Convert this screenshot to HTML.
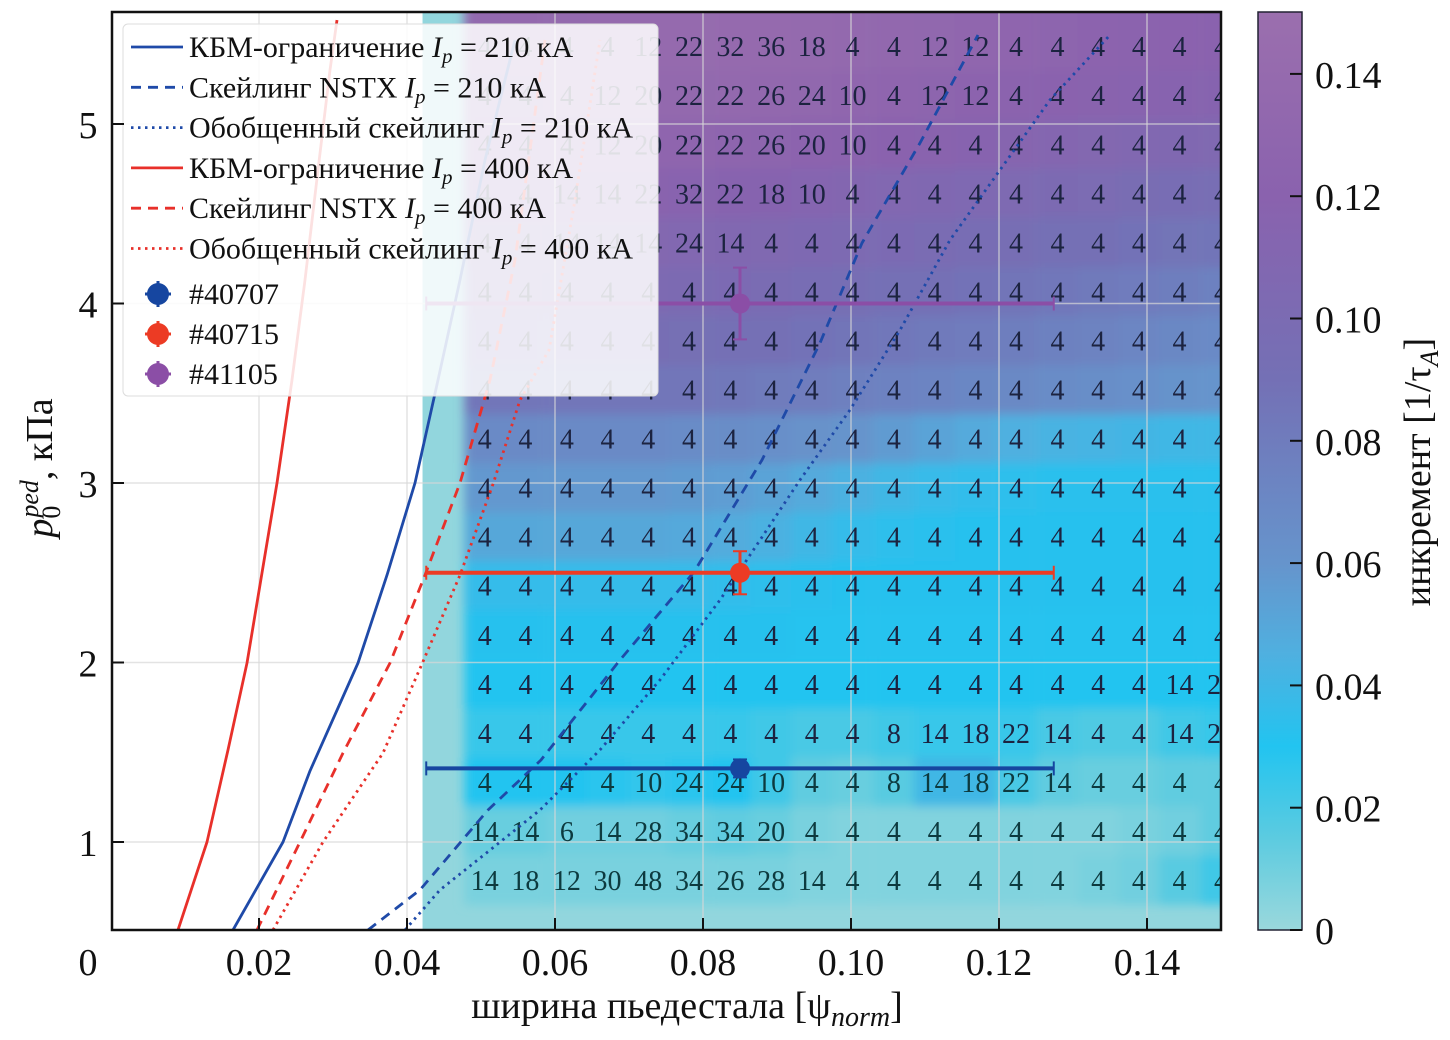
<!DOCTYPE html>
<html><head><meta charset="utf-8"><style>
html,body{margin:0;padding:0;background:#fff;}
svg{display:block;font-family:"Liberation Serif",serif;}
</style></head><body>
<svg id="chart" width="1450" height="1040" viewBox="0 0 1450 1040" xmlns="http://www.w3.org/2000/svg">
<defs>
<clipPath id="plotclip"><rect x="112" y="12" width="1109" height="918"/></clipPath>
<filter id="blur" x="-5%" y="-5%" width="110%" height="110%"><feGaussianBlur stdDeviation="5"/></filter>
<linearGradient id="cbgrad" x1="0" y1="1" x2="0" y2="0">
<stop offset="0" stop-color="#9ad8dc"/><stop offset="0.1" stop-color="#5ccbe0"/><stop offset="0.2" stop-color="#22c4f0"/><stop offset="0.3" stop-color="#4fb0e0"/><stop offset="0.4" stop-color="#6694cc"/><stop offset="0.6" stop-color="#7470b5"/><stop offset="0.8" stop-color="#8a62ae"/><stop offset="1" stop-color="#9b6fae"/>
</linearGradient>
</defs>
<g id="heat" clip-path="url(#plotclip)"></g>
<g id="grid" clip-path="url(#plotclip)"></g>
<g id="labels" clip-path="url(#plotclip)"></g>
<g id="curves" clip-path="url(#plotclip)"></g>
<g id="points"></g>
<g id="legend"></g>
<g id="axes"></g>
<g id="cbar"></g>
</svg>
<script>
// ---------- data ----------
const colX = [0.0505,0.0560,0.0616,0.0671,0.0726,0.0781,0.0837,0.0892,0.0947,0.1002,0.1058,0.1113,0.1168,0.1223,0.1279,0.1334,0.1389,0.1444,0.1500];
const rowP = [5.434,5.161,4.887,4.614,4.341,4.067,3.794,3.521,3.247,2.974,2.701,2.428,2.154,1.881,1.608,1.334,1.061,0.788];
const modeN = [
[4,4,4,4,12,22,32,36,18,4,4,12,12,4,4,4,4,4,4],
[4,4,4,12,20,22,22,26,24,10,4,12,12,4,4,4,4,4,4],
[4,4,4,12,20,22,22,26,20,10,4,4,4,4,4,4,4,4,4],
[4,4,14,14,22,32,22,18,10,4,4,4,4,4,4,4,4,4,4],
[4,4,14,14,14,24,14,4,4,4,4,4,4,4,4,4,4,4,4],
[4,4,4,4,4,4,4,4,4,4,4,4,4,4,4,4,4,4,4],
[4,4,4,4,4,4,4,4,4,4,4,4,4,4,4,4,4,4,4],
[4,4,4,4,4,4,4,4,4,4,4,4,4,4,4,4,4,4,4],
[4,4,4,4,4,4,4,4,4,4,4,4,4,4,4,4,4,4,4],
[4,4,4,4,4,4,4,4,4,4,4,4,4,4,4,4,4,4,4],
[4,4,4,4,4,4,4,4,4,4,4,4,4,4,4,4,4,4,4],
[4,4,4,4,4,4,4,4,4,4,4,4,4,4,4,4,4,4,4],
[4,4,4,4,4,4,4,4,4,4,4,4,4,4,4,4,4,4,4],
[4,4,4,4,4,4,4,4,4,4,4,4,4,4,4,4,4,14,24],
[4,4,4,4,4,4,4,4,4,4,8,14,18,22,14,4,4,14,24],
[4,4,4,4,10,24,24,10,4,4,8,14,18,22,14,4,4,4,4],
[14,14,6,14,28,34,34,20,4,4,4,4,4,4,4,4,4,4,4],
[14,18,12,30,48,34,26,28,14,4,4,4,4,4,4,4,4,4,4]];
const gamma = [
[.136,.137,.138,.139,.140,.140,.140,.139,.138,.136,.134,.132,.130,.128,.126,.124,.122,.121,.120],
[.132,.133,.134,.135,.136,.136,.135,.134,.132,.130,.128,.126,.124,.122,.120,.118,.117,.116,.115],
[.126,.127,.128,.128,.128,.128,.127,.126,.124,.122,.120,.118,.116,.114,.112,.110,.108,.107,.106],
[.118,.118,.118,.118,.118,.117,.116,.115,.113,.111,.109,.107,.105,.103,.101,.099,.097,.096,.095],
[.110,.110,.110,.110,.110,.109,.108,.106,.104,.102,.100,.098,.096,.094,.092,.090,.088,.087,.086],
[.102,.102,.102,.102,.102,.101,.100,.098,.096,.094,.092,.090,.088,.086,.084,.082,.080,.078,.076],
[.094,.094,.094,.094,.094,.093,.092,.090,.088,.086,.084,.082,.080,.078,.076,.074,.072,.070,.068],
[.085,.085,.085,.085,.085,.085,.083,.081,.079,.077,.075,.073,.071,.069,.067,.065,.063,.061,.060],
[.068,.068,.068,.068,.068,.067,.066,.064,.062,.060,.056,.052,.048,.045,.043,.042,.041,.040,.040],
[.058,.058,.058,.058,.058,.057,.055,.052,.048,.044,.040,.037,.035,.034,.033,.033,.033,.033,.033],
[.050,.050,.050,.050,.050,.049,.047,.044,.040,.036,.034,.033,.032,.032,.032,.032,.032,.032,.032],
[.036,.036,.036,.036,.036,.036,.035,.034,.033,.032,.032,.032,.032,.032,.032,.032,.032,.032,.032],
[.032,.032,.032,.032,.032,.032,.032,.032,.031,.031,.031,.031,.031,.031,.031,.031,.031,.031,.031],
[.030,.030,.030,.030,.030,.030,.030,.030,.030,.030,.030,.030,.030,.030,.030,.030,.030,.030,.030],
[.024,.024,.024,.024,.024,.024,.024,.022,.020,.020,.022,.024,.024,.024,.020,.018,.018,.022,.024],
[.030,.030,.030,.028,.026,.028,.030,.022,.014,.012,.016,.040,.040,.020,.014,.012,.012,.014,.014],
[.012,.012,.010,.010,.010,.012,.014,.012,.008,.006,.006,.006,.006,.006,.006,.006,.008,.010,.014],
[.008,.008,.008,.008,.008,.008,.008,.008,.006,.006,.006,.006,.006,.006,.006,.008,.010,.016,.022]];
const xTicks = [0.02,0.04,0.06,0.08,0.10,0.12,0.14];
const xTickLabels = ["0.02","0.04","0.06","0.08","0.10","0.12","0.14"];
const yTicks = [1,2,3,4,5];
const yTickLabels = ["1","2","3","4","5"];
const cTicks = [0,0.02,0.04,0.06,0.08,0.10,0.12,0.14];
const cTickLabels = ["0","0.02","0.04","0.06","0.08","0.10","0.12","0.14"];
const kbm210X = [0.01649,0.02324,0.02689,0.03338,0.0373,0.04108,0.04419,0.04716,0.05054,0.05459];
const kbm210P = [0.51,1.0,1.396,1.997,2.487,3.0,3.574,4.131,4.799,5.468];
const nstx210X = [0.03473,0.04176,0.05095,0.05811,0.06878,0.07878,0.08797,0.09581,0.10149,0.10932,0.11716];
const nstx210P = [0.51,0.733,1.178,1.457,2.014,2.504,3.128,3.780,4.337,4.894,5.496];
const gen210X = [0.03973,0.04446,0.05122,0.05797,0.06608,0.07419,0.0823,0.0877,0.09311,0.09986,0.10662,0.11338,0.12014,0.12689,0.135];
const gen210P = [0.51,0.733,0.955,1.178,1.513,1.903,2.348,2.682,3.017,3.407,3.852,4.354,4.744,5.134,5.496];
const kbm400X = [0.00905,0.01297,0.01581,0.01838,0.02041,0.02243,0.02446,0.02622,0.02797,0.0296,0.03054];
const kbm400P = [0.51,1.0,1.513,1.997,2.499,3.0,3.574,4.131,4.744,5.301,5.579];
const nstx400X = [0.01973,0.02554,0.03135,0.0377,0.04243,0.04716,0.05122,0.05459,0.05865];
const nstx400P = [0.51,1.0,1.496,1.997,2.487,3.0,3.574,4.242,5.468];
const gen400X = [0.02189,0.02865,0.03676,0.04203,0.04716,0.05162,0.05527,0.05919,0.0627,0.06608];
const gen400P = [0.51,1.0,1.496,1.992,2.487,2.994,3.462,3.741,4.577,5.468];
const shotNames = ["#40707","#40715","#41105"];
const shotX = [0.085,0.085,0.085];
const shotXerr = [0.0424,0.0424,0.0424];
const shotP = [1.41,2.50,4.00];
const shotPerr = [0.05,0.12,0.20];

// ---------- scales ----------
const NS="http://www.w3.org/2000/svg";
function X(v){return 111+v*7400;}
function Y(p){return 842-(p-1)*179.5;}
function C(v){return 930-v*6115;}
const stops=[[0,[154,216,220]],[0.015,[92,203,224]],[0.03,[34,196,240]],[0.045,[79,176,224]],[0.06,[102,148,204]],[0.09,[116,112,181]],[0.12,[138,98,174]],[0.15,[155,111,174]]];
function cmap(v){
  for(let i=1;i<stops.length;i++){if(v<=stops[i][0]){const a=stops[i-1],b=stops[i];const t=(v-a[0])/(b[0]-a[0]);
    const c=a[1].map((q,k)=>Math.round(q+(b[1][k]-q)*t));return `rgb(${c[0]},${c[1]},${c[2]})`;}}
  return 'rgb(155,111,174)';
}
function mk(tag,attrs,parent){const e=document.createElementNS(NS,tag);for(const k in attrs)e.setAttribute(k,attrs[k]);parent.appendChild(e);return e;}
function path(xs,ps){return xs.map((x,k)=>(k?'L':'M')+X(x).toFixed(1)+' '+Y(ps[k]).toFixed(1)).join(' ');}

// ---------- heatmap ----------
const heat=document.getElementById('heat');
const bg=mk('rect',{x:X(0.0421),y:12,width:1221-X(0.0421),height:918,fill:cmap(0.002)},heat);


const cellG=mk('g',{filter:'url(#blur)'},heat);
const cw=0.00552*7400, ch=0.2733*179.5;
for(let i=0;i<rowP.length;i++){for(let j=0;j<colX.length;j++){
  const r=mk('rect',{x:X(colX[j])-cw/2,y:Y(rowP[i])-ch/2-(i===0?30:0),width:cw+0.5+(j===colX.length-1?30:0),height:ch+0.5+(i===0?30:0),fill:cmap(gamma[i][j])},cellG);
  
  
}}
// grid
const grid=document.getElementById('grid');
xTicks.forEach(t=>{const l=mk('line',{x1:X(t),x2:X(t),y1:12,y2:930,stroke:'#d8d8d8','stroke-width':1.5,opacity:0.7},grid);
  
  });
yTicks.forEach(t=>{const l=mk('line',{x1:112,x2:1221,y1:Y(t),y2:Y(t),stroke:'#d8d8d8','stroke-width':1.5,opacity:0.7},grid);
  
  });
// numbers
const labs=document.getElementById('labels');
for(let i=0;i<rowP.length;i++){for(let j=0;j<colX.length;j++){
  const t=mk('text',{x:X(colX[j]),y:Y(rowP[i])+10,'text-anchor':'middle','font-size':28,fill:i>=15?'#0d3a3f':'#1c2340'},labs);
  t.textContent=modeN[i][j];
  
  
}}
// curves
const curves=document.getElementById('curves');
const series=[
 [kbm210X,kbm210P,'#1f4aa8','', 'kbm-210-curve'],
 [nstx210X,nstx210P,'#1f4aa8','10 7','nstx-210-curve'],
 [gen210X,gen210P,'#1f4aa8','2.5 4.5','generalized-210-curve'],
 [kbm400X,kbm400P,'#e8302a','','kbm-400-curve'],
 [nstx400X,nstx400P,'#e8302a','10 7','nstx-400-curve'],
 [gen400X,gen400P,'#e8302a','2.5 4.5','generalized-400-curve']];
series.forEach(s=>{const p=mk('path',{d:path(s[0],s[1]),fill:'none',stroke:s[2],'stroke-width':2.8,'stroke-dasharray':s[3],'stroke-linejoin':'round'},curves);
  
  });
// points
const pts=document.getElementById('points');
const shotCol=['#1646a0','#ec3b24','#8b4ea6'];
for(let k=0;k<shotX.length;k++){
  const g=mk('g',{},pts);
  
  
  const x0=X(shotX[k]-shotXerr[k]),x1=X(shotX[k]+shotXerr[k]),y=Y(shotP[k]);
  const ya=Y(shotP[k]+shotPerr[k]),yb=Y(shotP[k]-shotPerr[k]),xc=X(shotX[k]);
  mk('line',{x1:x0,x2:x1,y1:y,y2:y,stroke:shotCol[k],'stroke-width':4},g);
  mk('line',{x1:x0,x2:x0,y1:y-7,y2:y+7,stroke:shotCol[k],'stroke-width':2},g);
  mk('line',{x1:x1,x2:x1,y1:y-7,y2:y+7,stroke:shotCol[k],'stroke-width':2},g);
  mk('line',{x1:xc,x2:xc,y1:ya,y2:yb,stroke:shotCol[k],'stroke-width':3},g);
  mk('line',{x1:xc-7,x2:xc+7,y1:ya,y2:ya,stroke:shotCol[k],'stroke-width':2},g);
  mk('line',{x1:xc-7,x2:xc+7,y1:yb,y2:yb,stroke:shotCol[k],'stroke-width':2},g);
  mk('circle',{cx:xc,cy:y,r:10,fill:shotCol[k]},g);
}
// legend
const leg=document.getElementById('legend');
const lb=mk('rect',{x:123,y:24,width:535,height:372,rx:5,fill:'#ffffff','fill-opacity':0.86,stroke:'#dddddd','stroke-width':1},leg);


const legTxt=[['КБМ-ограничение ','210'],['Скейлинг NSTX ','210'],['Обобщенный скейлинг ','210'],['КБМ-ограничение ','400'],['Скейлинг NSTX ','400'],['Обобщенный скейлинг ','400']];
legTxt.forEach((e,k)=>{const yy=47+k*40.3;const s=series[k];
  const g=mk('g',{},leg);
  
  
  mk('line',{x1:131,x2:183,y1:yy,y2:yy,stroke:s[2],'stroke-width':2.8,'stroke-dasharray':s[3]},g);
  const t=mk('text',{x:189,y:yy+10,'font-size':30,fill:'#111'},g);
  t.innerHTML=e[0]+'<tspan font-style="italic">I</tspan><tspan font-style="italic" font-size="21" dy="6">p</tspan><tspan dy="-6"> = '+e[1]+' кА</tspan>';
});
shotNames.forEach((n,k)=>{const yy=294+k*40;
  const g=mk('g',{},leg);
  
  
  mk('circle',{cx:158,cy:yy,r:11,fill:shotCol[k]},g);
  mk('line',{x1:145,x2:171,y1:yy,y2:yy,stroke:shotCol[k],'stroke-width':3},g);
  mk('line',{x1:158,x2:158,y1:yy-13,y2:yy+13,stroke:shotCol[k],'stroke-width':3},g);
  const t=mk('text',{x:189,y:yy+10,'font-size':30,fill:'#111'},g);t.textContent=n;
});
// axes
const ax=document.getElementById('axes');
const fr=mk('rect',{x:112,y:12,width:1109,height:918,fill:'none',stroke:'#111','stroke-width':2.5},ax);


xTicks.forEach((t,k)=>{mk('line',{x1:X(t),x2:X(t),y1:930,y2:918,stroke:'#111','stroke-width':2},ax);
  const tx=mk('text',{x:X(t),y:975,'text-anchor':'middle','font-size':38,fill:'#111'},ax);tx.textContent=xTickLabels[k];
  
  });
yTicks.forEach((t,k)=>{mk('line',{x1:112,x2:124,y1:Y(t),y2:Y(t),stroke:'#111','stroke-width':2},ax);
  const tx=mk('text',{x:88,y:Y(t)+14,'text-anchor':'middle','font-size':38,fill:'#111'},ax);tx.textContent=yTickLabels[k];
  
  });
const z=mk('text',{x:88,y:975,'text-anchor':'middle','font-size':38,fill:'#111'},ax);z.textContent='0';


const xl=mk('text',{x:687,y:1018,'text-anchor':'middle','font-size':38,fill:'#111'},ax);
xl.innerHTML='ширина пьедестала [ψ<tspan font-style="italic" font-size="28" dy="8">norm</tspan><tspan dy="-8">]</tspan>';


const yl=mk('text',{x:0,y:0,'text-anchor':'middle','font-size':38,fill:'#111',transform:'translate(52,468) rotate(-90)'},ax);
yl.innerHTML='<tspan font-style="italic">p</tspan><tspan font-size="26" dy="8">0</tspan><tspan font-size="26" font-style="italic" dy="-22" dx="-12">ped</tspan><tspan dy="14">, кПа</tspan>';


// colorbar
const cb=document.getElementById('cbar');
const cr=mk('rect',{x:1258,y:12,width:44,height:918,fill:'url(#cbgrad)',stroke:'#223',"stroke-width":1.5},cb);


cTicks.forEach((t,k)=>{mk('line',{x1:1290,x2:1302,y1:C(t),y2:C(t),stroke:'#111','stroke-width':2},cb);
  const tx=mk('text',{x:1315,y:C(t)+14,'font-size':38,fill:'#111'},cb);tx.textContent=cTickLabels[k];
  
  });
const cl=mk('text',{x:0,y:0,'text-anchor':'middle','font-size':38,fill:'#111',transform:'translate(1430,472) rotate(-90)'},cb);
cl.innerHTML='инкремент [1/τ<tspan font-style="italic" font-size="26" dy="8">A</tspan><tspan dy="-8">]</tspan>';


</script>
</body></html>
